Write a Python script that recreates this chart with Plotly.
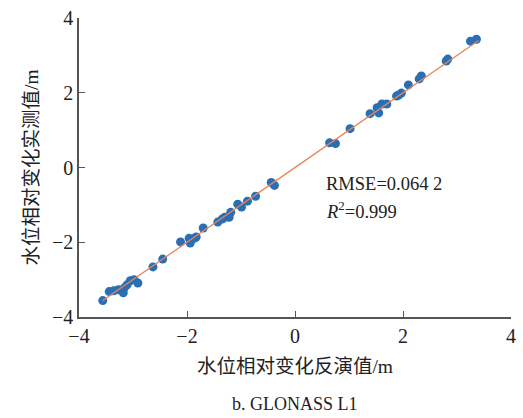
import plotly.graph_objects as go

# retrieved (inverted) water level change, m
x_inv = [-3.56, -3.44, -3.36, -3.27, -3.18, -3.16, -3.11, -3.05, -2.98, -2.91,
         -2.63, -2.45, -2.12, -1.96, -1.94, -1.86, -1.83, -1.70, -1.43, -1.35,
         -1.30, -1.22, -1.19, -1.06, -0.99, -0.88, -0.73, -0.44, -0.38,
         0.64, 0.75, 1.02, 1.39, 1.52, 1.55, 1.61, 1.70, 1.88, 1.92, 1.97,
         2.10, 2.30, 2.34, 2.80, 2.83, 3.25, 3.36]
# measured water level change, m
y_obs = [-3.56, -3.32, -3.30, -3.27, -3.35, -3.22, -3.14, -3.03, -3.00, -3.09,
         -2.66, -2.45, -1.99, -1.89, -2.02, -1.89, -1.86, -1.62, -1.46, -1.38,
         -1.33, -1.33, -1.20, -0.98, -1.06, -0.90, -0.77, -0.40, -0.48,
         0.66, 0.64, 1.04, 1.44, 1.60, 1.46, 1.70, 1.70, 1.91, 1.94, 1.99,
         2.21, 2.37, 2.45, 2.85, 2.90, 3.38, 3.43]
fit_x = [-3.56, 3.40]
ticks = [-4, -2, 0, 2, 4]
tick_text = ["\u22124", "\u22122", "0", "2", "4"]

FONT = "Liberation Serif, Noto Sans CJK SC, serif"

fig = go.Figure()
fig.add_trace(go.Scatter(x=x_inv, y=y_obs, mode="markers",
                         marker=dict(color="#2a6fb3", size=9, line=dict(width=0)),
                         showlegend=False))
fig.add_trace(go.Scatter(x=fit_x, y=fit_x, mode="lines",
                         line=dict(color="#e8845c", width=1.3), showlegend=False))

axis_common = dict(range=[-4, 4], tickvals=ticks, ticktext=tick_text,
                   showgrid=False, zeroline=False, showline=True,
                   linecolor="#555555", linewidth=1.5, ticks="inside",
                   ticklen=6, tickcolor="#555555", tickwidth=1.2,
                   tickfont=dict(family=FONT, size=20, color="#222222"))
fig.update_xaxes(**axis_common,
                 title=dict(text="水位相对变化反演值/m", standoff=14,
                            font=dict(family=FONT, size=19.5, color="#222222")))
fig.update_yaxes(**axis_common,
                 title=dict(text="水位相对变化实测值/m", standoff=8,
                            font=dict(family=FONT, size=19.5, color="#222222")))

fig.add_annotation(x=0.53, y=-0.43, xref="x", yref="y", xanchor="left", yanchor="middle",
                   text="RMSE=0.064 2", showarrow=False,
                   font=dict(family=FONT, size=18.5, color="#222222"))
fig.add_annotation(x=0.53, y=-1.14, xref="x", yref="y", xanchor="left", yanchor="middle",
                   text="<i>R</i><sup>2</sup>=0.999", showarrow=False,
                   font=dict(family=FONT, size=18.5, color="#222222"))
fig.add_annotation(x=0.5, y=-0.29, xref="paper", yref="paper", xanchor="center",
                   yanchor="middle", text="b. GLONASS L1", showarrow=False,
                   font=dict(family=FONT, size=18, color="#222222"))

fig.update_layout(width=523, height=418, margin=dict(l=79, r=7, t=16, b=101),
                  plot_bgcolor="white", paper_bgcolor="white")
fig.write_html("out.html")
